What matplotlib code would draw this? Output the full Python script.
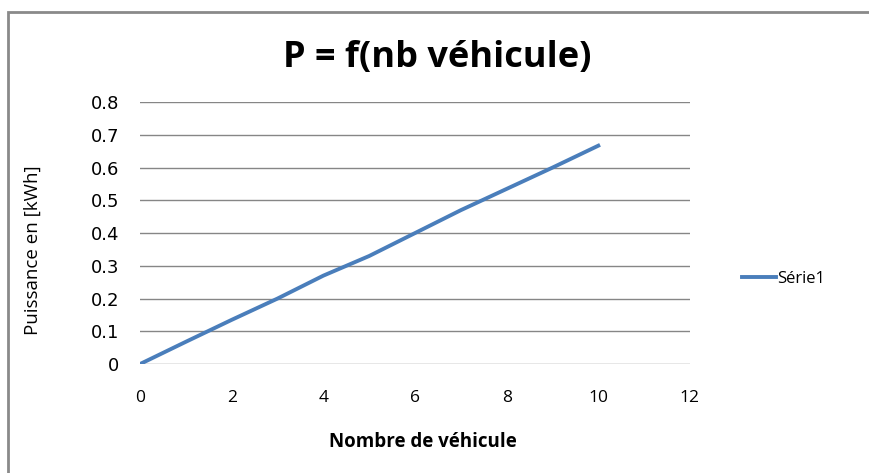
import matplotlib
matplotlib.use('Agg')
from matplotlib import pyplot as plt
from matplotlib.patches import Rectangle

# Data
nb_vehicule = [0, 1, 2, 3, 4, 5, 6, 7, 8, 9, 10]
puissance = [0.0, 0.068, 0.135, 0.2, 0.27, 0.33, 0.4, 0.47, 0.535, 0.6, 0.667]
x_ticks = [0, 2, 4, 6, 8, 10, 12]
y_ticks = [0, 0.1, 0.2, 0.3, 0.4, 0.5, 0.6, 0.7, 0.8]

line_color = '#4a7ebb'
grid_color = '#868686'

fig = plt.figure(figsize=(8.7, 4.73), dpi=100)
ax = fig.add_axes([0.161, 0.2304, 0.632, 0.5536])

ax.plot(nb_vehicule, puissance, color=line_color, linewidth=2.8, label='Série1')

ax.set_xlim(0, 12)
ax.set_ylim(0, 0.8)
ax.set_xticks(x_ticks)
ax.set_yticks(y_ticks)
ax.set_yticklabels(['0'] + [f'{v:.1f}' for v in y_ticks[1:]])
ax.yaxis.grid(True, color=grid_color, linewidth=1)
ax.set_axisbelow(True)
for s in ax.spines.values():
    s.set_visible(False)
ax.tick_params(length=0)
ax.tick_params(axis='y', pad=15)
ax.tick_params(axis='x', pad=19)
for lbl in ax.get_yticklabels():
    lbl.set_fontfamily('DejaVu Sans')
    lbl.set_fontsize(13)
for lbl in ax.get_xticklabels():
    lbl.set_fontfamily('Open Sans')
    lbl.set_fontsize(12.5)

# title is centred on the chart area, not the plot area
fig.text(437 / 870, 1 - 58 / 473, 'P = f(nb véhicule)', fontsize=26, fontweight='bold',
         family='Open Sans', ha='center', va='center')
ax.set_xlabel('Nombre de véhicule', fontsize=13.5, fontweight='bold', family='Open Sans')
ax.xaxis.set_label_coords(0.515, -0.26)
ax.set_ylabel('Puissance en [kWh]', fontsize=13.5, family='Open Sans')
ax.yaxis.set_label_coords(-0.178, 0.435)

leg = ax.legend(loc='center left', bbox_to_anchor=(1.068, 0.325), frameon=False,
                handlelength=2.0, handletextpad=0.1, prop={'family': 'Open Sans', 'size': 12})

# chart border (partially cropped in the original)
fig.patches.append(Rectangle((8 / 870, -0.1), 1.2, 1 - 12 / 473 + 0.1,
                             transform=fig.transFigure, fill=False,
                             edgecolor='#8a8a8a', linewidth=2))

fig.savefig('out.png', dpi=100)
